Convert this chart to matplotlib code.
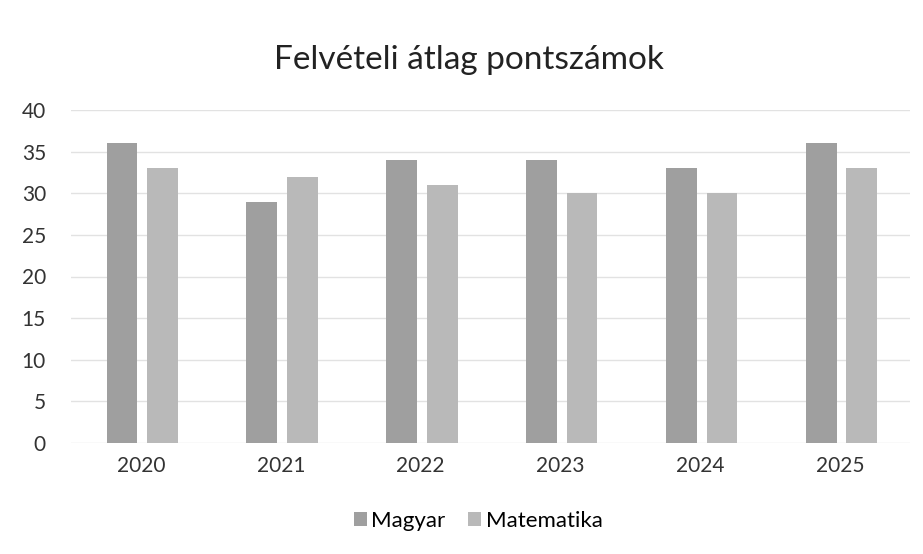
import numpy as np
import matplotlib.pyplot as plt

plt.rcParams['font.family'] = ['Lato', 'DejaVu Sans']

years = ['2020', '2021', '2022', '2023', '2024', '2025']
magyar = [36, 29, 34, 34, 33, 36]
matematika = [33, 32, 31, 30, 30, 33]

fig = plt.figure(figsize=(9.23, 5.54), dpi=100)
ax = fig.add_axes([71 / 923, 1 - 443 / 554, (910 - 71) / 923, 333 / 554])

x = np.arange(len(years))
w = 0.22
ax.bar(x - 0.135, magyar, w, color='#9f9f9f', label='Magyar', zorder=3)
ax.bar(x + 0.155, matematika, w, color='#b9b9b9', label='Matematika', zorder=3)

ax.set_xlim(-0.5, len(years) - 0.5)
ax.set_ylim(0, 40)
ax.set_yticks(range(0, 41, 5))
ax.set_xticks(x)
ax.set_xticklabels(years)
ax.yaxis.grid(True, color='#e2e2e2', linewidth=1, zorder=0)
ax.tick_params(axis='both', length=0, labelsize=15, colors='#333333')
ax.tick_params(axis='x', pad=9)
ax.tick_params(axis='y', pad=18)
for s in ax.spines.values():
    s.set_visible(False)

fig.text(0.508, 1 - 60 / 554, 'Felvételi átlag pontszámok', ha='center', va='center',
         fontsize=24, color='#222222')
fig.legend(loc='center', bbox_to_anchor=(0.518, 1 - 521 / 554), ncol=2, frameon=False,
           fontsize=16, handlelength=0.6, handleheight=0.6, handletextpad=0.2,
           columnspacing=1.0)

fig.savefig('out.png', dpi=100)
